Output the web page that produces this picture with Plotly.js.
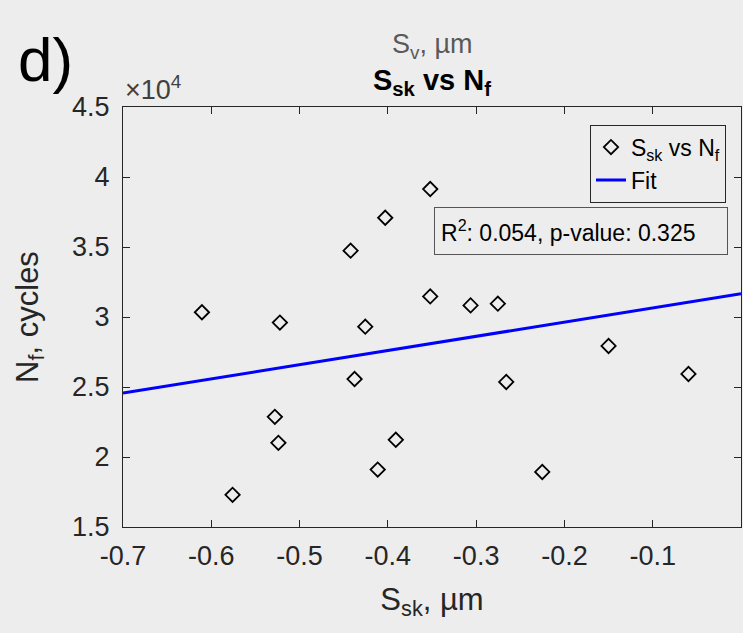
<!DOCTYPE html>
<html>
<head>
<meta charset="utf-8">
<script src="https://cdn.plot.ly/plotly-3.0.1.min.js"></script>
<style>html,body{margin:0;padding:0;background:#ededed;}#chart{width:743px;height:633px;}</style>
</head>
<body>
<div id="chart"></div>
<script>
// S_sk values (µm)
const ssk = [-0.6106, -0.5223, -0.5759, -0.528, -0.524, -0.4422, -0.403, -0.352, -0.4256, -0.4377,
             -0.352, -0.3063, -0.2754, -0.391, -0.4115, -0.2659, -0.2251, -0.150, -0.0595];
// N_f values (cycles)
const nf = [30340, 29600, 17300, 22870, 21010, 34740, 37090, 39140, 29310, 25570,
            31470, 30830, 30950, 21230, 19100, 25360, 18930, 27930, 25930];
// Linear fit line end points
const fitX = [-0.7, 0];
const fitY = [24570, 31660];
// Tick labels
const xTickVals = [-0.7, -0.6, -0.5, -0.4, -0.3, -0.2, -0.1];
const xTickText = ['-0.7', '-0.6', '-0.5', '-0.4', '-0.3', '-0.2', '-0.1'];
const yTickVals = [15000, 20000, 25000, 30000, 35000, 40000, 45000];
const yTickText = ['1.5', '2', '2.5', '3', '3.5', '4', '4.5'];

const bg = '#ededed';
const axCol = '#262626';
const font = 'Liberation Sans, Arial, sans-serif';

const traces = [
  {
    x: ssk, y: nf, type: 'scatter', mode: 'markers',
    name: 'S<sub>sk</sub> vs N<sub>f</sub>',
    marker: {symbol: 'diamond-open', size: 11, color: '#000000', line: {width: 1.8, color: '#000000'}}
  },
  {
    x: fitX, y: fitY, type: 'scatter', mode: 'lines', name: 'Fit',
    line: {color: '#0000ff', width: 3}
  }
];

const layout = {
  width: 743, height: 633,
  margin: {l: 123, r: 2, t: 107, b: 106},
  paper_bgcolor: bg, plot_bgcolor: bg,
  font: {family: font, color: axCol, size: 27},
  showlegend: true,
  title: {
    text: '<b>S<sub>sk</sub> vs N<sub>f</sub></b>',
    font: {family: font, size: 29, color: '#000000'},
    xref: 'paper', x: 0.5, xanchor: 'center',
    yref: 'container', y: 1 - 80 / 633, yanchor: 'middle'
  },
  xaxis: {
    range: [-0.7, 0], tickmode: 'array', tickvals: xTickVals, ticktext: xTickText,
    showgrid: false, zeroline: false, showline: true, linecolor: axCol, linewidth: 1,
    mirror: 'ticks', ticks: 'inside', ticklen: 7, tickcolor: axCol, tickwidth: 1,
    tickfont: {family: font, size: 27, color: axCol}, ticklabelstandoff: 5,
    title: {text: 'S<sub>sk</sub>, µm', font: {family: font, size: 31, color: axCol}, standoff: 17}
  },
  yaxis: {
    range: [15000, 45000], tickmode: 'array', tickvals: yTickVals, ticktext: yTickText,
    showgrid: false, zeroline: false, showline: true, linecolor: axCol, linewidth: 1,
    mirror: 'ticks', ticks: 'inside', ticklen: 7, tickcolor: axCol, tickwidth: 1,
    tickfont: {family: font, size: 27, color: axCol}, ticklabelstandoff: 7,
    title: {text: 'N<sub>f</sub>, cycles', font: {family: font, size: 31, color: axCol}, standoff: 24}
  },
  legend: {
    x: 0.9757, xanchor: 'right', y: 0.958, yanchor: 'top',
    bgcolor: bg, bordercolor: axCol, borderwidth: 1,
    font: {family: font, size: 23, color: '#000000'},
    tracegroupgap: 0, itemwidth: 30
  },
  annotations: [
    {
      text: 'R<sup>2</sup>: 0.054, p-value: 0.325',
      xref: 'paper', yref: 'paper', x: 0.7406, y: 0.705, xanchor: 'center', yanchor: 'middle',
      showarrow: false, font: {family: font, size: 23, color: '#000000'},
      bgcolor: bg, bordercolor: '#555555', borderwidth: 1, borderpad: 6,
      width: 280, height: 34, align: 'left'
    },
    {
      text: 'S<sub>v</sub>, µm',
      xref: 'paper', yref: 'paper', x: 0.5, y: 1 + (107 - 46) / 420, xanchor: 'center', yanchor: 'middle',
      showarrow: false, font: {family: font, size: 27, color: '#595959'}
    },
    {
      text: 'd)',
      xref: 'paper', yref: 'paper', x: -(123 - 16) / 618, y: 1 + (107 - 60) / 420, xanchor: 'left', yanchor: 'middle',
      showarrow: false, font: {family: font, size: 62, color: '#000000'}
    },
    {
      text: '×10<sup>4</sup>',
      xref: 'paper', yref: 'paper', x: 0, y: 1.0, xanchor: 'left', yanchor: 'bottom',
      showarrow: false, font: {family: font, size: 27, color: '#404040'}
    }
  ]
};

Plotly.newPlot('chart', traces, layout, {displayModeBar: false, staticPlot: true});
</script>
</body>
</html>
